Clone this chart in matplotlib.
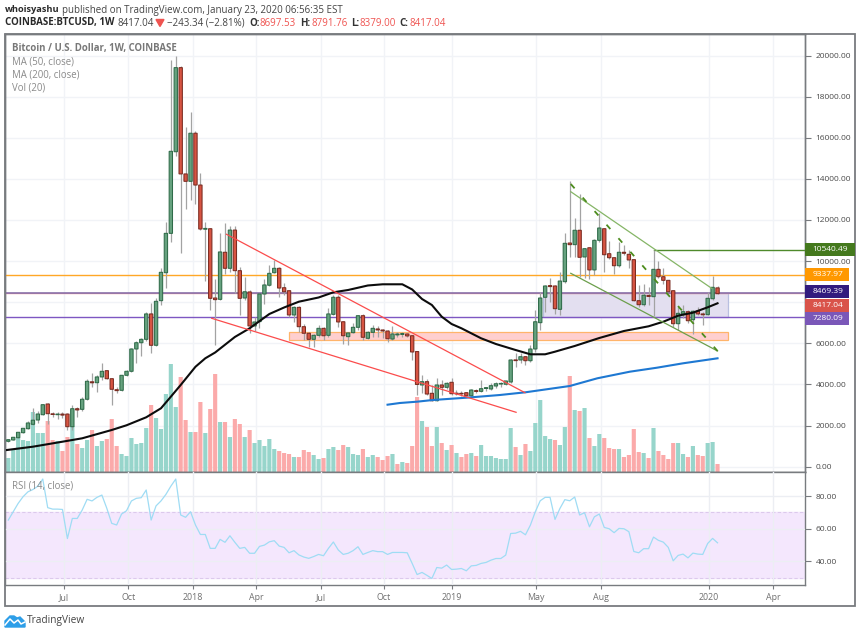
import numpy as np
import matplotlib
matplotlib.use('Agg')
from matplotlib import pyplot as plt
from matplotlib.patches import Rectangle, Polygon

plt.rcParams['font.family'] = ['Open Sans', 'DejaVu Sans']

# weekly candles, first one is index 0
opens = [1235,1299,1411,1654,1848,2062,2271,2529,3050,2570,2530,2560,2560,1945,2820,2790,3280,4130,4085,4365,
         4670,4280,3745,3715,4445,4640,5725,6030,6195,7430,5905,8075,9435,11350,15320,19410,14240,13880,16220,13700,
         11550,11575,8205,8140,10430,9650,11510,9535,8205,8500,6845,7055,8400,8825,9435,9650,8705,8560,7380,7750,
         6810,6490,6195,6390,6730,6390,7410,8240,7050,6325,6520,6780,7345,6245,6535,6700,6650,6600,6210,6410,
         6440,6455,6370,5600,3975,4135,3570,3210,3975,3860,4105,3575,3570,3600,3450,3700,3665,3810,3780,3925,
         4020,4010,4120,5195,5190,5350,5155,5725,7005,8240,8810,8790,7655,9000,10880,10800,11500,10200,10650,9570,
         11010,11575,10360,10165,9775,10430,10330,10070,8075,7880,8330,8270,9600,9240,9065,8560,6955,7430,7540,7150,
         7575,7430,7395,8170,8697.53]
highs = [1330,1450,1680,1900,2200,2840,2700,3050,3080,2675,2680,2660,2590,2985,2920,3405,4260,4540,4460,5030,
         4700,4330,3860,4480,4720,5780,6130,6280,7500,7960,8205,9665,11915,19780,19975,19500,16540,17240,16330,14285,
         11915,11600,9115,11370,11830,11700,11700,9700,9240,8600,7300,8470,9130,9810,10055,9700,8920,8600,7800,7800,
         6940,6550,6450,6890,6780,7735,8350,8350,7100,6560,6975,7400,7410,6580,6890,6840,6700,6650,6840,6565,
         6540,6500,6420,5650,4460,4280,3975,4315,4215,4135,4315,3730,3695,3630,3760,3765,4215,3890,4055,4135,
         4120,4190,5220,5515,5515,5400,5920,7620,8510,8850,9180,8850,9485,11350,13895,12095,13250,10650,10700,11060,
         12325,11620,10990,10200,10945,10785,10540,10100,8840,8885,8755,10540,10020,9665,9100,8600,7780,7865,7600,7600,
         7755,7540,8510,9275,8791.76]
lows = [1225,1290,1390,1640,1840,2050,2110,2500,2060,2400,2305,2385,1785,1785,2400,2700,3260,3890,3650,4215,
        4250,3000,3570,3680,4420,4620,5030,5385,6100,5530,5880,7865,8690,10945,15100,10410,12530,12970,12780,11500,
        9050,7620,5920,8100,9395,9470,8465,7380,8110,6500,6600,6745,7915,8780,9400,8270,8350,7280,7050,6565,
        6160,5835,5835,6320,6160,6320,7380,6810,5970,5920,6490,6650,6160,6195,6320,6320,6245,6065,6160,6310,
        6320,6320,5190,3490,3585,3490,3200,3190,3490,3800,3510,3490,3440,3415,3430,3570,3630,3695,3730,3810,
        3890,3975,4090,4865,5030,4945,5090,5595,6650,7540,8000,7430,7380,8950,10215,10215,9240,9180,9130,9320,
        10950,9485,10100,9370,9725,10295,9650,8060,7780,7815,7865,7345,9180,8885,8495,6810,6650,7220,7005,6455,
        7400,6890,7360,8110,8379.00]
closes = [1313,1430,1673,1868,2126,2262,2563,3016,2578,2540,2560,2510,1945,2820,2760,3280,4155,4080,4365,4640,
          4280,3765,3700,4445,4640,5725,6030,6195,7430,5905,8045,9455,11350,15340,19410,14240,13880,16220,13700,11560,
          11590,8190,8125,10445,9650,11510,9535,8190,8510,6845,7040,8400,8840,9405,9650,8690,8510,7380,7750,6810,
          6490,6195,6390,6730,6370,7430,8240,7040,6370,6505,6780,7345,6295,6535,6730,6650,6600,6225,6455,6455,
          6470,6360,5580,4000,4135,3535,3210,3975,3860,4055,3550,3540,3540,3450,3730,3660,3795,3840,3940,4035,
          4050,4170,5190,5160,5350,5155,5725,7050,8205,8790,8760,7685,9030,10865,10800,11500,10185,10605,9570,11010,
          11610,10310,10165,9775,10430,10380,10055,8075,7880,8340,8280,9600,9240,9065,8510,6955,7460,7540,7100,7560,
          7430,7390,8190,8725,8417.04]

vols = [1400,2200,3400,3200,3100,6000,3900,3900,5100,3200,3100,2100,3500,4600,2800,2400,3200,4200,2600,3100,
        3300,5300,2600,1800,1600,3400,2800,2900,4400,6700,5400,4300,7800,10800,6500,9500,5200,4000,4000,7000,
        3900,6300,9800,5000,5000,3500,5300,4800,3500,4200,2900,3200,2600,3300,2300,2100,1900,1800,1500,1500,
        2200,2000,1700,1300,1400,2300,2500,2200,2700,2500,1800,1700,2300,1500,1700,1500,1200,1600,1800,800,
        1000,900,2600,7500,5100,4500,2600,4500,2900,2200,2700,1900,1500,1800,1900,1600,2700,1600,1600,1400,
        1300,1300,4400,2500,1700,2800,2100,4900,7200,3600,3300,3200,2700,4500,9600,6200,6100,6400,3400,2600,
        3800,3400,2400,2300,2300,1500,1700,4300,2000,1900,1400,4400,2100,1700,1300,2900,2900,1800,1500,2600,
        1700,1600,2900,3000,800]
vol_down = [8,9,11,12,14,17,20,21,22,29,35,36,38,39,41,42,44,46,47,49,55,56,57,59,60,61,64,67,68,72,75,76,77,
            79,81,82,83,85,86,88,90,92,93,95,103,105,111,114,116,118,121,122,123,125,126,127,128,130,132,133,
            134,135,138,140,141,144]

rsi = [65.3,70.4,75.5,79.6,82.6,84,86,90.4,72.9,72,72,71.8,54,66.3,66.3,71.4,78,77,79.2,80.6,
       72.5,63.3,62.3,69,71,77,78.6,79,83.7,65.3,74,77,81,86,90.4,68.4,67,70.4,62.3,56.5,
       56.5,48,48,53.5,51.7,55.7,51.7,48,48.6,45,45,49.2,50,52,52.7,49.4,48.6,45.3,46.6,44,
       42.7,41.9,43,44.3,43.5,48,51.9,47,44.3,45,46.6,49,44.3,45.5,46.6,46,46,44.3,45.5,45.5,
       45.5,45.3,38.8,32,33.3,31.5,29.6,36.3,35.9,37.8,35.1,35.3,35.7,34.3,37.3,37.6,38.8,39.4,40.8,41.8,
       41.8,43.9,57.1,57.3,58.4,56.3,62.2,70.4,77.1,79.2,79.2,65.7,72.4,77.8,77.1,79.4,68.4,69.8,61.2,67.3,
       69,60.8,60,57.6,60.2,60,58.2,46.1,45.3,47.8,47.8,54.9,52.9,51.8,48.6,40.4,43.7,44.5,42.2,45.1,
       44.5,44.3,51,54.1,51.4]

ma50_idx = [-1,5,11,15,21,24,28,31,33,35,38,40,42,46,49,53,56,59,63,66,69,73,76,80,82,84,86,88,90,92,96,99,103,
            106,109,111,115,120,125,130,133,136,139,142,144]
ma50 = [790,973,1216,1381,1785,2014,2403,2841,3405,3974,4860,5273,5555,6309,6732,7427,7744,8026,8230,8483,8595,
        8814,8872,8872,8620,8157,7865,7296,6941,6732,6245,5968,5676,5467,5467,5594,5871,6260,6600,6829,7053,7345,
        7491,7753,7948]
ma200_idx = [77,79.5,83,86.2,93,99.8,105,114,119.6,126.2,131.7,137,144]
ma200 = [3016,3098,3162,3244,3356,3487,3619,3925,4300,4621,4815,5029,5272]

# drawings on the chart: (index, price) pairs
red_top = ([44.3,104.9], [11305,3600])
red_bottom = ([41.3,103.1], [7218,2646])
green_top = ([114.2,142.8], [13376,8677])
green_bottom = ([114.2,144], [9407,5628])
green_dash = ([114.2,144], [13750,5628])
level_orange = 9337.97
level_purple = 8469.39
level_low = 7280.09
level_green = 10540.49
level_green_from = 131.1
box_purple = (108.6, 146.1, 7280.09, 8469.39)
box_orange = (57, 146.1, 6177, 6537)

price_ticks = list(range(0, 20001, 2000))
hidden_price_labels = [8000]  # sits behind the price tags
rsi_ticks = [40, 60, 80]
x_ticks = [11.3,24.4,37.4,50.3,63.4,76.3,90.1,107.2,120.3,142.3,155.3]
x_labels = ['Jul','Oct','2018','Apr','Jul','Oct','2019','May','Aug','2020','Apr']

W, H = 860, 635
ymin, ymax = -258, 21046
vol_top = 43800
gridc = '#f1f3f7'
textc = '#4a4a4a'
axisc = '#787b7f'


def pane(left, top, right, bottom):
    return [left / W, 1 - bottom / H, (right - left) / W, (bottom - top) / H]


fig = plt.figure(figsize=(8.6, 6.35), dpi=100)

ax_vol = fig.add_axes(pane(5, 34, 805, 472))
ax = fig.add_axes(pane(5, 34, 805, 472), sharex=ax_vol)
ax.patch.set_visible(False)
ax_rsi = fig.add_axes(pane(5, 472, 805, 585), sharex=ax_vol)

xs = np.arange(len(closes))

# volume sits under everything, on its own scale
vol_colors = ['#fbaaaa' if i in vol_down else '#97d5cb' for i in xs]
vol_bars = ax_vol.bar(xs, vols, width=0.84, color=vol_colors, zorder=2)
for p in vol_bars:
    p.set_snap(False)
ax_vol.set_ylim(0, vol_top)
ax_vol.set_yticks([(p - ymin) / (ymax - ymin) * vol_top for p in price_ticks])
ax_vol.set_xlim(-0.67, 161.76)
ax_vol.set_xticks(x_ticks)
ax_vol.grid(True, color=gridc, linewidth=1, zorder=0)
ax_vol.tick_params(left=False, bottom=False, labelleft=False, labelbottom=False)

ax.set_ylim(ymin, ymax)
ax.yaxis.tick_right()
ax.set_yticks(price_ticks)
ax.set_yticklabels(['' if p in hidden_price_labels else '%.2f' % p for p in price_ticks])
ax.tick_params(axis='y', length=4, width=0.8, color=axisc, labelcolor=textc, labelsize=6.0, pad=3.5)
ax.tick_params(axis='x', bottom=False, labelbottom=False)

for b in [box_orange, box_purple]:
    face = '#ffcfcf' if b is box_orange else '#e3dff0'
    edge = '#ffb46b' if b is box_orange else '#b9bfe0'
    ax.add_patch(Rectangle((b[0], b[2]), b[1] - b[0], b[3] - b[2], facecolor=face, edgecolor=edge,
                           linewidth=0.9, zorder=1))

ax.axhline(level_orange, color='#ffa726', linewidth=1, zorder=2)
ax.axhline(level_purple - 25, color='#f2a0a0', linewidth=1, zorder=2)
ax.axhline(level_purple, color='#7f6aa8', linewidth=1.1, zorder=2)
ax.axhline(level_low, color='#7e57c2', linewidth=1, zorder=2)
ax.plot([level_green_from, 161.76], [level_green, level_green], color='#4f8a2b', linewidth=1, zorder=2)

# candles
for i in xs:
    up = closes[i] >= opens[i]
    body = '#66a27f' if up else '#d75442'
    edge = '#2f6b49' if up else '#7a2c22'
    ax.vlines(i, lows[i], highs[i], color='#a3a3a3', linewidth=0.9, zorder=3)
    candle = ax.bar(i, abs(closes[i] - opens[i]), bottom=min(opens[i], closes[i]), width=0.68,
                    facecolor=body, edgecolor=edge, linewidth=0.75, zorder=4)
    candle[0].set_snap(False)

ax.plot(ma50_idx, ma50, color='#0c0c0c', linewidth=1.5, zorder=5)
ax.plot(ma200_idx, ma200, color='#1e78d2', linewidth=1.5, zorder=5)

ax.plot(*red_top, color='#fb4c4c', linewidth=0.9, zorder=6)
ax.plot(*red_bottom, color='#fb4c4c', linewidth=0.9, zorder=6)
ax.plot(*green_top, color='#85b566', linewidth=0.9, zorder=6)
ax.plot(*green_bottom, color='#6c9f4c', linewidth=0.9, zorder=6)
ax.plot(*green_dash, color='#4c8c1d', linewidth=1.3, dashes=(3.2, 6.8), zorder=6)

# rsi pane
ax_rsi.axhspan(30, 70, color='#f4e7fd', zorder=0)
ax_rsi.axhline(70, color='#dcc9ec', linewidth=0.8, linestyle=(0, (3, 2)), zorder=1)
ax_rsi.axhline(30, color='#dcc9ec', linewidth=0.8, linestyle=(0, (3, 2)), zorder=1)
ax_rsi.plot(xs, rsi, color='#9fdcf4', linewidth=0.9, zorder=3)
ax_rsi.set_ylim(25.6, 94.7)
ax_rsi.yaxis.tick_right()
ax_rsi.set_yticks(rsi_ticks)
ax_rsi.set_yticklabels(['%.2f' % r for r in rsi_ticks])
ax_rsi.set_xticks(x_ticks)
ax_rsi.set_xticklabels(x_labels)
ax_rsi.grid(True, color='#eceef3', linewidth=1, zorder=2)
ax_rsi.set_axisbelow(False)
ax_rsi.tick_params(axis='y', length=4, width=0.8, color=axisc, labelcolor=textc, labelsize=6.0, pad=3.5)
ax_rsi.tick_params(axis='x', length=3, width=0.8, color=axisc, labelcolor='#707070', labelsize=6.4, pad=3)

for a in [ax_vol, ax, ax_rsi]:
    for s in a.spines.values():
        s.set_color(axisc)
        s.set_linewidth(1)

# everything around the chart is laid out in pixels
ov = fig.add_axes([0, 0, 1, 1], zorder=10)
ov.set_xlim(0, W)
ov.set_ylim(H, 0)
ov.axis('off')
ov.add_patch(Rectangle((5, 34), 850, 572, fill=False, edgecolor=axisc, linewidth=1.3))

ov.text(5, 10, 'whoisyashu', fontsize=6.7, fontweight='bold', color='#2a2a2a', va='center')
ov.text(62, 10, 'published on TradingView.com, January 23, 2020 06:56:35 EST', fontsize=7.0,
        color='#444444', va='center')
ov.text(5, 23, 'COINBASE:BTCUSD, 1W', fontsize=7.0, fontweight='bold', color='#2a2a2a', va='center')
ov.text(118, 23, '8417.04', fontsize=7.0, color='#444444', va='center')
ov.add_patch(Polygon([[156, 19.5], [164, 19.5], [160, 26.5]], closed=True, color='#ef5350'))
ov.text(167, 23, '\u2212243.34 (\u22122.81%)', fontsize=7.0, color='#444444', va='center')
for px, lab, nx, val in [(249, 'O:', 260, '8697.53'), (300, 'H:', 311, '8791.76'),
                         (351, 'L:', 359, '8379.00'), (399, 'C:', 409, '8417.04')]:
    ov.text(px, 23, lab, fontsize=7.0, fontweight='bold', color='#333333', va='center')
    ov.text(nx, 23, val, fontsize=7.0, color='#ef5350', va='center')

ov.text(12, 48, 'Bitcoin / U.S. Dollar, 1W, COINBASE', fontsize=6.9, fontweight='bold', color='#787878', va='center')
ov.text(12, 61.5, 'MA (50, close)', fontsize=6.9, color='#8a8a8a', va='center')
ov.text(12, 75, 'MA (200, close)', fontsize=6.9, color='#8a8a8a', va='center')
ov.text(12, 88.5, 'Vol (20)', fontsize=6.9, color='#8a8a8a', va='center')
ov.text(12, 485.5, 'RSI (14, close)', fontsize=6.9, color='#8a8a8a', va='center')

for ytop, right, col, lab in [(243, 855, '#44791d', '10540.49'), (267.7, 849, '#ff9800', '9337.97'),
                              (285.3, 849, '#311b7e', '8469.39'), (299, 849, '#d9534a', '8417.04'),
                              (312.3, 849, '#7a57b8', '7280.09')]:
    ov.add_patch(Rectangle((805, ytop), right - 805, 13, facecolor=col, edgecolor='none'))
    ov.text(812.5, ytop + 6.5, lab, fontsize=6.0, color='white', va='center')

# logo
ov.add_patch(Polygon([[5, 627], [5, 621], [10, 616], [14, 616], [17, 618], [20, 617], [25, 622], [25, 627]],
                     closed=True, color='#2d9ee8'))
ov.plot([5, 10, 14, 18, 21, 25], [625, 619, 623, 620, 624, 622], color='white', linewidth=1.1)
ov.text(27, 621, 'TradingView', fontsize=7.3, color='#444444', va='center')

fig.savefig('out.png', dpi=100)
